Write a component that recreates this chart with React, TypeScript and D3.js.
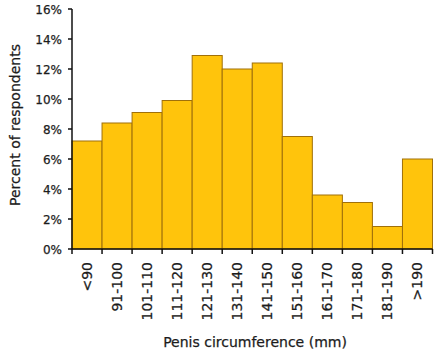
import React from "react";
import * as d3 from "d3";

const categories = ["<90", "91-100", "101-110", "111-120", "121-130", "131-140", "141-150", "151-160", "161-170", "171-180", "181-190", ">190"];
const values = [7.2, 8.4, 9.1, 9.9, 12.9, 12.0, 12.4, 7.5, 3.6, 3.1, 1.5, 6.0];
const yTicks = [0, 2, 4, 6, 8, 10, 12, 14, 16];

const W = 443, H = 356;
const left = 72, right = 432.5, top = 9, bottom = 249;
const font = "'DejaVu Sans', Verdana, sans-serif";
const textColor = "#1c1c1c";

export default function App() {
  const x = d3.scaleBand<string>().domain(categories).range([left, right]).padding(0);
  const y = d3.scaleLinear().domain([0, 16]).range([bottom, top]);
  const bw = x.bandwidth();
  const boundaries = categories.map((c) => x(c) as number).concat([right]);
  const textProps = { fontFamily: font, fill: textColor, stroke: textColor, strokeWidth: 0.25 };
  return (
    <svg width={W} height={H} style={{ position: "absolute", left: 0, top: 0, background: "#fff" }}>
      {categories.map((c, i) => (
        <rect key={c} x={x(c)} y={y(values[i])} width={bw} height={bottom - y(values[i])}
          fill="#FFC40C" stroke="#A0700A" strokeWidth={1} />
      ))}
      <line x1={left} x2={left} y1={top} y2={bottom} stroke="#111" strokeWidth={1.5} />
      <line x1={left} x2={right} y1={bottom} y2={bottom} stroke="#111" strokeWidth={1.5} />
      {yTicks.map((t) => (
        <g key={t}>
          <line x1={left - 4} x2={left} y1={y(t)} y2={y(t)} stroke="#111" strokeWidth={1.5} />
          <text x={62} y={y(t) + 1} dy="0.35em" textAnchor="end" fontSize={12} {...textProps}>{t}%</text>
        </g>
      ))}
      {boundaries.map((b, i) => (
        <line key={i} x1={b} x2={b} y1={bottom} y2={bottom + 5} stroke="#111" strokeWidth={1.5} />
      ))}
      {categories.map((c) => {
        const cx = (x(c) as number) + bw / 2;
        return (
          <text key={c} transform={`translate(${cx},262) rotate(-90)`} dy="0.35em" textAnchor="end"
            fontSize={14} {...textProps}>{c}</text>
        );
      })}
      <text transform={`translate(15,125) rotate(-90)`} dy="0.35em" textAnchor="middle" fontSize={14} {...textProps}>Percent of respondents</text>
      <text x={255} y={347} textAnchor="middle" fontSize={14} {...textProps}>Penis circumference (mm)</text>
    </svg>
  );
}
